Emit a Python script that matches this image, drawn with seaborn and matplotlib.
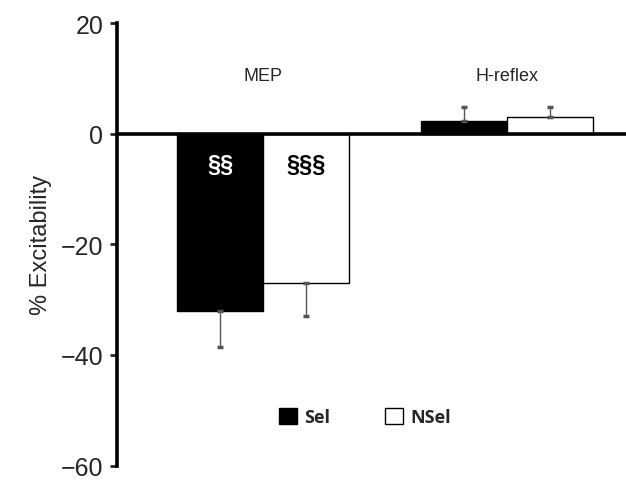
import matplotlib
matplotlib.use("Agg")
import matplotlib.pyplot as plt
import seaborn as sns
import pandas as pd

# values
measures = ["MEP", "H-reflex"]
conditions = ["Sel", "NSel"]
sel_values = [-32.0, 2.3]
nsel_values = [-27.0, 3.0]
sel_err = [6.5, 2.5]
nsel_err = [6.0, 1.8]
marks = {("MEP", "Sel"): "§§", ("MEP", "NSel"): "§§§"}

df = pd.DataFrame({
    "measure": measures * 2,
    "condition": ["Sel"] * 2 + ["NSel"] * 2,
    "value": sel_values + nsel_values,
})
errs = {"Sel": sel_err, "NSel": nsel_err}

sns.set_style("white")
plt.rcParams["font.family"] = ["Liberation Sans", "DejaVu Sans"]

fig = plt.figure(figsize=(6.26, 4.81), dpi=100)
ax = fig.add_axes([0.187, 0.03, 0.813, 0.92])

sns.barplot(data=df, x="measure", y="value", hue="condition",
            order=measures, hue_order=conditions,
            palette={"Sel": "black", "NSel": "white"},
            edgecolor="black", linewidth=1, width=0.705, gap=0,
            errorbar=None, ax=ax)

# one-sided error bars, away from zero
for cont, cond in zip(ax.containers, conditions):
    for bar, val, e in zip(cont, df[df.condition == cond]["value"], errs[cond]):
        xc = bar.get_x() + bar.get_width() / 2
        yerr = [[e], [0]] if val < 0 else [[0], [e]]
        ax.errorbar(xc, val, yerr=yerr, fmt="none", ecolor="#555555",
                    elinewidth=1, capsize=2, capthick=2.5, zorder=1)

# significance marks inside the MEP bars
for cont, cond in zip(ax.containers, conditions):
    for bar, m in zip(cont, measures):
        if (m, cond) in marks:
            xc = bar.get_x() + bar.get_width() / 2
            ax.text(xc, -5.6, marks[(m, cond)], ha="center", va="center",
                    fontsize=17, fontweight="bold",
                    color="white" if cond == "Sel" else "black")

for i, m in enumerate(measures):
    ax.text(i, 10.5, m, ha="center", va="center", fontsize=13)

ax.axhline(0, color="black", lw=2.6, zorder=3)

ax.set_ylim(-60, 20)
ax.set_xlim(-0.6, 1.49)
ax.set_yticks([-60, -40, -20, 0, 20])
ax.set_xticks([])
ax.set_xlabel("")
ax.set_ylabel("% Excitability", fontsize=17, labelpad=6)
ax.tick_params(axis="y", labelsize=18, length=5, width=2, direction="out", left=True, pad=5)
for s in ["top", "right", "bottom"]:
    ax.spines[s].set_visible(False)
ax.spines["left"].set_linewidth(2.6)
ax.spines["left"].set_color("black")

handles, labels = ax.get_legend_handles_labels()
ax.legend(handles, labels, loc="center", bbox_to_anchor=(0.487, 0.11),
          ncol=2, frameon=False, handlelength=1.0, handleheight=1.0,
          columnspacing=3.0, handletextpad=0.4,
          prop={"family": ["Open Sans", "DejaVu Sans"], "weight": "bold", "size": 13})

fig.savefig("out.png", dpi=100)
